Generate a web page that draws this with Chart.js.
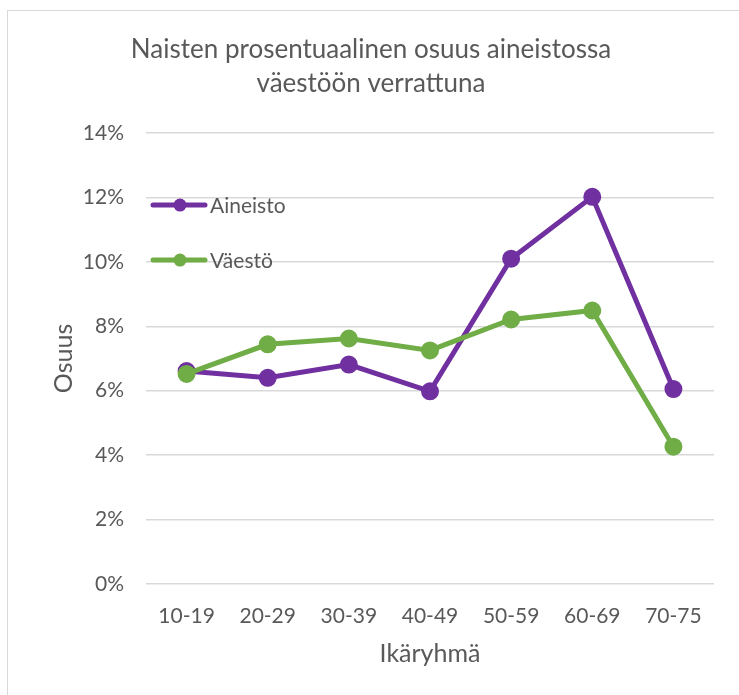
<!DOCTYPE html>
<html>
<head>
<meta charset="utf-8">
<script src="https://cdn.jsdelivr.net/npm/chart.js@4"></script>
<style>
  html, body { margin: 0; padding: 0; background: #fff; overflow: hidden; }
  #box {
    position: absolute; left: 7px; top: 10px;
    width: 760px; height: 700px;
    border: 1px solid #d9d9d9; box-sizing: border-box;
  }
</style>
</head>
<body>
<div id="box"><canvas id="linechart"></canvas></div>
<script>
// age groups and shares of women (%)
const ageGroups = ["10-19", "20-29", "30-39", "40-49", "50-59", "60-69", "70-75"];
const aineisto = [6.61, 6.40, 6.81, 5.98, 10.10, 12.02, 6.05];
const vaesto = [6.52, 7.44, 7.62, 7.25, 8.21, 8.49, 4.26];
const yTicks = [0, 2, 4, 6, 8, 10, 12, 14];

const textColor = "#595959";
const fontFamily = "Lato, 'Open Sans', sans-serif";

// legend drawn inside the plot area, line + marker + label
const insideLegend = {
  id: "insideLegend",
  afterDatasetsDraw: (chart) => {
    let ctx = chart.ctx;
    let area = chart.chartArea;
    let x = area.left + 7;
    let y = area.top + 72;
    ctx.save();
    chart.data.datasets.forEach((ds) => {
      ctx.strokeStyle = ds.borderColor;
      ctx.lineWidth = ds.borderWidth;
      ctx.lineCap = "round";
      ctx.beginPath();
      ctx.moveTo(x, y);
      ctx.lineTo(x + 52, y);
      ctx.stroke();
      ctx.fillStyle = ds.backgroundColor;
      ctx.beginPath();
      ctx.arc(x + 27, y, ds.pointRadius, 0, Math.PI * 2);
      ctx.fill();
      ctx.fillStyle = textColor;
      ctx.font = "21px " + fontFamily;
      ctx.textBaseline = "middle";
      ctx.fillText(ds.label, x + 57, y + 1);
      y += 55;
    });
    ctx.restore();
  },
};

var lch = document.getElementById("linechart").getContext("2d");

var configlchart = {
  type: "line",
  plugins: [insideLegend],
  data: {
    labels: ageGroups,
    datasets: [
      {
        label: "Aineisto",
        data: aineisto,
        borderColor: "#7030a0",
        backgroundColor: "#7030a0",
        borderWidth: 5,
        pointRadius: 6.5,
        pointHoverRadius: 6.5,
        order: 1,
      },
      {
        label: "Väestö",
        data: vaesto,
        borderColor: "#70ad47",
        backgroundColor: "#70ad47",
        borderWidth: 5,
        pointRadius: 6.5,
        pointHoverRadius: 6.5,
        order: 0,
      },
    ],
  },
  options: {
    responsive: true,
    maintainAspectRatio: false,
    animation: false,
    layout: { padding: { left: 20, right: 52, bottom: 0 } },
    plugins: {
      legend: { display: false },
      tooltip: { enabled: false },
      title: {
        display: true,
        text: ["Naisten prosentuaalinen osuus aineistossa", "väestöön verrattuna"],
        color: textColor,
        font: { family: fontFamily, size: 26, weight: "normal", lineHeight: 1.31 },
        padding: { top: 22, bottom: 32 },
      },
    },
    scales: {
      x: {
        offset: true,
        grid: { display: false, drawTicks: false },
        border: { display: false },
        ticks: { color: textColor, font: { family: fontFamily, size: 21 }, padding: 20 },
        title: {
          display: true,
          text: "Ikäryhmä",
          color: textColor,
          font: { family: fontFamily, size: 25 },
          padding: { top: -10, bottom: 40 },
        },
      },
      y: {
        min: 0,
        max: 14,
        afterFit: (scale) => { scale.width = 118; },
        afterBuildTicks: (scale) => { scale.ticks = yTicks.map((v) => ({ value: v })); },
        grid: { color: "#d9d9d9", lineWidth: 1.5, drawTicks: false },
        border: { display: false },
        ticks: {
          color: textColor,
          font: { family: fontFamily, size: 21 },
          padding: 22,
          callback: (v) => v + "%",
        },
        title: {
          display: true,
          text: "Osuus",
          color: textColor,
          font: { family: fontFamily, size: 25 },
          padding: { top: 21, bottom: 0 },
        },
      },
    },
  },
};

var chart = new Chart(lch, configlchart);
</script>
</body>
</html>
